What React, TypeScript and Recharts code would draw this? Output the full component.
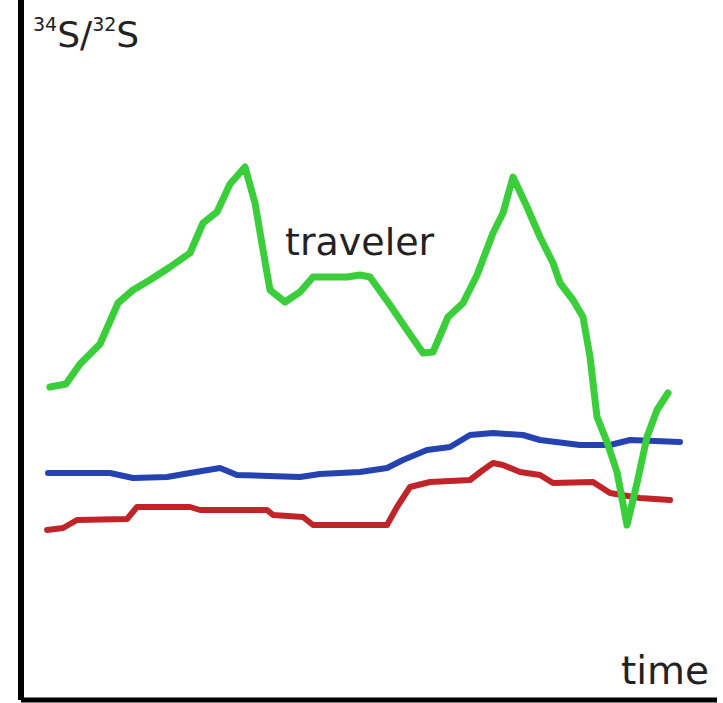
import React from 'react';
import { LineChart, Line, XAxis, YAxis, ReferenceDot } from 'recharts';

// time axis (arbitrary units) and 34S/32S ratio (arbitrary units)
const greenTime = [29, 45, 59, 79, 97, 112, 129, 149, 169, 182, 196, 209, 224, 234, 242, 249, 264, 279, 292, 326, 339, 349, 369, 386, 402, 412, 427, 442, 456, 472, 482, 492, 506, 519, 532, 539, 552, 562, 569, 576, 586, 596, 606, 616, 626, 636, 647];
const greenRatio = [3.13, 3.16, 3.36, 3.56, 3.97, 4.1, 4.2, 4.33, 4.47, 4.77, 4.88, 5.16, 5.33, 4.97, 4.5, 4.1, 3.98, 4.08, 4.23, 4.23, 4.25, 4.23, 3.95, 3.7, 3.47, 3.48, 3.83, 3.97, 4.25, 4.67, 4.87, 5.23, 4.93, 4.63, 4.37, 4.17, 4.0, 3.83, 3.43, 2.83, 2.58, 2.28, 1.75, 2.17, 2.63, 2.9, 3.07];

const blueTime = [27, 89, 112, 146, 169, 199, 216, 279, 299, 339, 366, 382, 406, 429, 449, 472, 502, 519, 559, 589, 609, 659];
const blueRatio = [2.27, 2.27, 2.22, 2.23, 2.27, 2.32, 2.25, 2.23, 2.26, 2.28, 2.32, 2.4, 2.5, 2.53, 2.65, 2.67, 2.65, 2.6, 2.55, 2.55, 2.6, 2.58];

const redTime = [26, 42, 56, 106, 116, 169, 179, 246, 252, 282, 292, 366, 376, 389, 409, 449, 462, 472, 482, 499, 519, 532, 572, 589, 619, 649];
const redRatio = [1.7, 1.72, 1.8, 1.81, 1.93, 1.93, 1.9, 1.9, 1.85, 1.83, 1.75, 1.75, 1.93, 2.13, 2.18, 2.2, 2.3, 2.37, 2.35, 2.28, 2.25, 2.17, 2.18, 2.07, 2.02, 2.0];

const travelerLabel = { time: 264, ratio: 4.45, text: 'traveler' };

const toPoints = (t: number[], r: number[]) => t.map((time, i) => ({ time, ratio: r[i] }));

const greenData = toPoints(greenTime, greenRatio);
const blueData = toPoints(blueTime, blueRatio);
const redData = toPoints(redTime, redRatio);

const FONT = '"DejaVu Sans", sans-serif';

const YTitle = (props: any) => {
  const vb = props.viewBox || { x: 0, y: 0 };
  const x = vb.x + 33;
  return (
    <text x={x} y={vb.y + 47} fill="#222" fontFamily={FONT}>
      <tspan x={x} y={vb.y + 31} fontSize={19}>34</tspan>
      <tspan y={vb.y + 47} fontSize={36}>S/</tspan>
      <tspan y={vb.y + 31} fontSize={19}>32</tspan>
      <tspan y={vb.y + 47} fontSize={36}>S</tspan>
    </text>
  );
};

const XTitle = (props: any) => {
  const vb = props.viewBox || { x: 21, y: 700, width: 696 };
  return (
    <text x={vb.x + vb.width - 8} y={vb.y - 16} textAnchor="end" fontSize={39} fill="#222" fontFamily={FONT}>
      time
    </text>
  );
};

const SeriesName = (props: any) => {
  const vb = props.viewBox || { x: 0, y: 0 };
  return (
    <text x={vb.x} y={vb.y} fontSize={38} fill="#222" fontFamily={FONT}>
      {travelerLabel.text}
    </text>
  );
};

export default function App() {
  return (
    <div style={{ position: 'absolute', left: 0, top: 0, background: '#fff' }}>
      <LineChart width={723} height={703} margin={{ top: 0, right: 6, bottom: 0, left: 0 }}>
        <XAxis
          type="number"
          dataKey="time"
          domain={[0, 696]}
          height={3}
          tick={false}
          tickLine={false}
          axisLine={{ stroke: '#000', strokeWidth: 5 }}
          label={<XTitle />}
          allowDataOverflow
        />
        <YAxis
          type="number"
          dataKey="ratio"
          domain={[0, 7]}
          width={21}
          tick={false}
          tickLine={false}
          axisLine={{ stroke: '#000', strokeWidth: 6 }}
          label={<YTitle />}
          allowDataOverflow
        />
        <Line data={redData} dataKey="ratio" type="linear" stroke="#c02428" strokeWidth={6} dot={false} strokeLinejoin="round" strokeLinecap="round" isAnimationActive={false} />
        <Line data={blueData} dataKey="ratio" type="linear" stroke="#2442b0" strokeWidth={6} dot={false} strokeLinejoin="round" strokeLinecap="round" isAnimationActive={false} />
        <Line data={greenData} dataKey="ratio" type="linear" stroke="#3acf3a" strokeWidth={7} dot={false} strokeLinejoin="round" strokeLinecap="round" isAnimationActive={false} />
        <ReferenceDot x={travelerLabel.time} y={travelerLabel.ratio} r={0} fill="none" stroke="none" label={<SeriesName />} />
      </LineChart>
    </div>
  );
}
